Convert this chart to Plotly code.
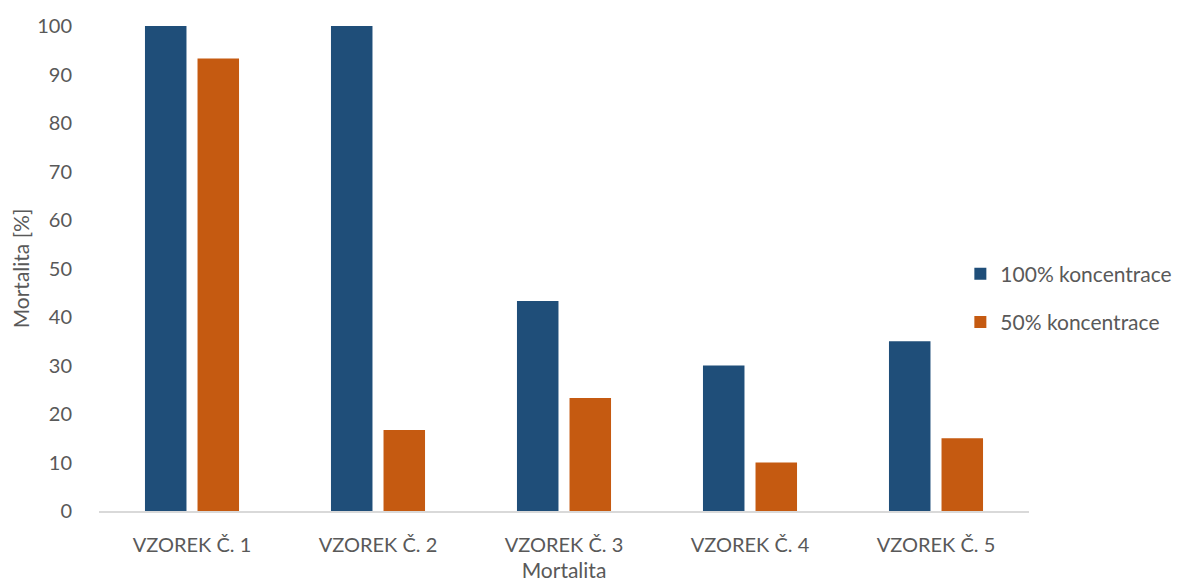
import plotly.graph_objects as go

categories = ["VZOREK Č. 1", "VZOREK Č. 2", "VZOREK Č. 3", "VZOREK Č. 4", "VZOREK Č. 5"]
series_100 = [100, 100, 43.3, 30, 35]
series_50 = [93.3, 16.7, 23.3, 10, 15]
y_ticks = [0, 10, 20, 30, 40, 50, 60, 70, 80, 90, 100]

font_family = "Lato, 'Open Sans', sans-serif"
text_color = "#595959"

fig = go.Figure()
fig.add_trace(go.Bar(name="100% koncentrace", x=categories, y=series_100, legendgroup="a",
                     marker=dict(color="#1f4e79", line=dict(width=0))))
fig.add_trace(go.Bar(name="50% koncentrace", x=categories, y=series_50, legendgroup="b",
                     marker=dict(color="#c55a11", line=dict(width=0))))

fig.update_layout(
    width=1186, height=586,
    barmode="group", bargap=0.435, bargroupgap=0.21,
    plot_bgcolor="white", paper_bgcolor="white",
    margin=dict(l=91, r=165, t=18, b=83, autoexpand=False),
    font=dict(family=font_family, color=text_color, size=19),
    legend=dict(xref="container", yref="container", x=0.803, xanchor="left",
                y=0.505, yanchor="middle",
                font=dict(size=21, color=text_color), tracegroupgap=18,
                itemwidth=30, bgcolor="rgba(0,0,0,0)"),
    xaxis=dict(title=dict(text="Mortalita", font=dict(size=21, color=text_color), standoff=9),
               showline=True, linecolor="#d9d9d9", linewidth=1.5, automargin=False,
               tickfont=dict(size=20, color=text_color), ticks="outside", ticklen=15,
               tickcolor="white", showgrid=False),
    yaxis=dict(title=dict(text="Mortalita [%]", font=dict(size=21, color=text_color), standoff=6),
               range=[0, 100], tickvals=y_ticks, showgrid=False, zeroline=False, automargin=False,
               showline=False, tickfont=dict(size=20, color=text_color), ticks="outside",
               ticklen=22, tickcolor="white"),
)

fig.write_html("out.html")
